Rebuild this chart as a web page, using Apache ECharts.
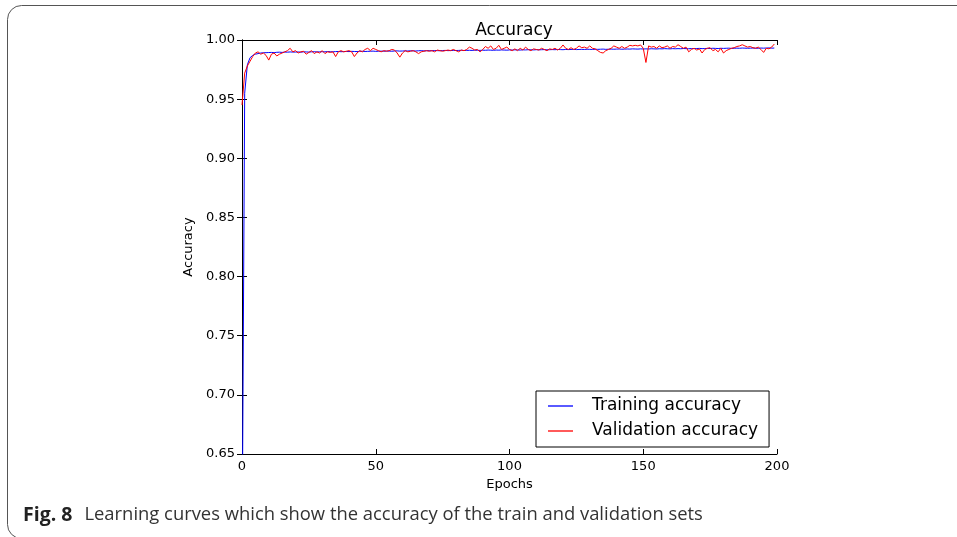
<!DOCTYPE html>
<html>
<head>
<meta charset="utf-8">
<script src="https://cdn.jsdelivr.net/npm/echarts@6/dist/echarts.min.js"></script>
<style>
html,body{margin:0;padding:0;background:#fff;}
#chart{width:957px;height:537px;}
</style>
</head>
<body>
<div id="chart"></div>
<script>
const chartTitle = 'Accuracy';
const xAxisName = 'Epochs';
const yAxisName = 'Accuracy';
const seriesNames = ['Training accuracy', 'Validation accuracy'];
const captionBold = 'Fig. 8';
const captionText = 'Learning curves which show the accuracy of the train and validation sets';
const xTicks = [0, 50, 100, 150, 200];
const yTicks = [0.65, 0.70, 0.75, 0.80, 0.85, 0.90, 0.95, 1.00];

const trainAcc = [
0.55, 0.955, 0.979, 0.985, 0.987, 0.988, 0.9885, 0.989, 0.9892, 0.9893,
0.9894, 0.9895, 0.9893, 0.9896, 0.9897, 0.9895, 0.9898, 0.9897, 0.9899, 0.9898,
0.9898, 0.9899, 0.9897, 0.99, 0.9899, 0.9898, 0.99, 0.9901, 0.9899, 0.99,
0.9901, 0.99, 0.9902, 0.9901, 0.99, 0.9902, 0.9903, 0.9901, 0.9902, 0.9903,
0.9902, 0.9904, 0.9903, 0.9902, 0.9904, 0.9905, 0.9903, 0.9904, 0.9905, 0.9906,
0.9904, 0.9905, 0.9906, 0.9905, 0.9907, 0.9906, 0.9905, 0.9907, 0.9908, 0.9906,
0.9907, 0.9908, 0.9907, 0.9909, 0.9908, 0.9907, 0.9909, 0.991, 0.9908, 0.9909,
0.991, 0.9909, 0.9911, 0.991, 0.9909, 0.9911, 0.9912, 0.991, 0.9911, 0.9912,
0.9911, 0.9912, 0.9913, 0.9911, 0.9912, 0.9913, 0.9912, 0.9914, 0.9913, 0.9912,
0.9914, 0.9913, 0.9915, 0.9914, 0.9913, 0.9915, 0.9914, 0.9916, 0.9915, 0.9914,
0.9916, 0.9915, 0.9917, 0.9916, 0.9915, 0.9917, 0.9916, 0.9918, 0.9917, 0.9916,
0.9918, 0.9917, 0.9918, 0.9919, 0.9917, 0.9918, 0.9919, 0.9918, 0.992, 0.9919,
0.9918, 0.992, 0.9919, 0.992, 0.9921, 0.9919, 0.992, 0.9921, 0.992, 0.9922,
0.9921, 0.992, 0.9922, 0.9921, 0.9922, 0.9923, 0.9921, 0.9922, 0.9923, 0.9922,
0.9923, 0.9924, 0.9922, 0.9923, 0.9924, 0.9923, 0.9925, 0.9924, 0.9923, 0.9925,
0.9924, 0.9925, 0.9924, 0.9926, 0.9925, 0.9924, 0.9926, 0.9925, 0.9927, 0.9926,
0.9925, 0.9927, 0.9926, 0.9927, 0.9926, 0.9928, 0.9927, 0.9926, 0.9928, 0.9927,
0.9928, 0.9929, 0.9927, 0.9928, 0.9929, 0.9928, 0.993, 0.9929, 0.9928, 0.993,
0.9929, 0.993, 0.9931, 0.9929, 0.993, 0.9931, 0.993, 0.9932, 0.9931, 0.993,
0.9931, 0.9932, 0.9931, 0.993, 0.9932, 0.9931, 0.9932, 0.9933, 0.9931, 0.9932
];

const valAcc = [
0.945, 0.972, 0.978, 0.982, 0.986, 0.989, 0.990, 0.988, 0.989, 0.987,
0.983, 0.988, 0.989, 0.9865, 0.988, 0.989, 0.990, 0.991, 0.993, 0.990,
0.991, 0.989, 0.990, 0.9905, 0.988, 0.9895, 0.991, 0.9885, 0.990, 0.989,
0.991, 0.9885, 0.990, 0.9895, 0.990, 0.986, 0.990, 0.991, 0.990, 0.9905,
0.991, 0.990, 0.986, 0.989, 0.991, 0.990, 0.992, 0.993, 0.991, 0.993,
0.992, 0.991, 0.990, 0.991, 0.9905, 0.991, 0.992, 0.9915, 0.989, 0.9855,
0.989, 0.991, 0.990, 0.9905, 0.991, 0.990, 0.9885, 0.990, 0.9905, 0.991,
0.9905, 0.991, 0.990, 0.9915, 0.991, 0.9905, 0.991, 0.9915, 0.991, 0.992,
0.991, 0.990, 0.9915, 0.991, 0.992, 0.994, 0.993, 0.9915, 0.992, 0.990,
0.992, 0.9945, 0.993, 0.995, 0.992, 0.993, 0.9955, 0.992, 0.993, 0.994,
0.992, 0.991, 0.9925, 0.991, 0.993, 0.9915, 0.994, 0.992, 0.991, 0.9925,
0.992, 0.9915, 0.993, 0.992, 0.991, 0.9925, 0.992, 0.993, 0.9915, 0.993,
0.9958, 0.993, 0.992, 0.9935, 0.992, 0.993, 0.995, 0.9935, 0.994, 0.993,
0.995, 0.993, 0.9925, 0.991, 0.9895, 0.989, 0.991, 0.992, 0.993, 0.995,
0.994, 0.993, 0.9945, 0.993, 0.994, 0.9955, 0.995, 0.9955, 0.995, 0.9958,
0.993, 0.981, 0.995, 0.994, 0.9945, 0.993, 0.995, 0.9935, 0.994, 0.995,
0.993, 0.9945, 0.994, 0.996, 0.9945, 0.993, 0.994, 0.990, 0.992, 0.993,
0.9915, 0.9925, 0.989, 0.992, 0.993, 0.9935, 0.991, 0.992, 0.990, 0.993,
0.989, 0.991, 0.992, 0.993, 0.9935, 0.9945, 0.995, 0.996, 0.995, 0.994,
0.9945, 0.9935, 0.993, 0.994, 0.992, 0.9895, 0.993, 0.9925, 0.994, 0.9966
];

const chart = echarts.init(document.getElementById('chart'), null, {renderer: 'canvas'});
const FONT = 'DejaVu Sans';
const xMin = xTicks[0], xMax = xTicks[xTicks.length - 1];
const xInt = xTicks[1] - xTicks[0];
const yMin = yTicks[0], yMax = yTicks[yTicks.length - 1];
const yInt = 0.05;

const trainData = trainAcc.map((v, i) => [i, v]);
const valData = valAcc.map((v, i) => [i, v]);

const axisCommon = {
  axisLine: {show: true, lineStyle: {color: '#000', width: 1}},
  axisTick: {show: true, inside: true, length: 5, lineStyle: {color: '#000', width: 1}},
  splitLine: {show: false}
};

chart.setOption({
  animation: false,
  backgroundColor: '#fff',
  title: {
    text: chartTitle,
    left: 509, top: 17, textAlign: 'center',
    textStyle: {fontFamily: FONT, fontSize: 17, fontWeight: 'normal', color: '#000'}
  },
  grid: {left: 242, top: 40, width: 535, height: 414, containLabel: false},
  legend: {
    left: 536, top: 391,
    orient: 'vertical',
    icon: 'rect',
    itemWidth: 25, itemHeight: 1.3,
    itemGap: 5,
    padding: [5, 11, 6, 12],
    borderColor: '#000', borderWidth: 1, borderRadius: 0,
    backgroundColor: '#fff',
    textStyle: {fontFamily: FONT, fontSize: 17, color: '#000', lineHeight: 20, padding: [0, 0, 0, 14]},
    data: seriesNames
  },
  xAxis: [
    Object.assign({
      type: 'value', position: 'bottom', min: xMin, max: xMax, interval: xInt,
      name: xAxisName, nameLocation: 'middle', nameGap: 24,
      nameTextStyle: {fontFamily: FONT, fontSize: 13, color: '#000'},
      axisLabel: {fontFamily: FONT, fontSize: 13, color: '#000', margin: 6, showMinLabel: true, showMaxLabel: true}
    }, axisCommon),
    Object.assign({
      type: 'value', position: 'top', min: xMin, max: xMax, interval: xInt,
      axisLabel: {show: false}
    }, axisCommon)
  ],
  yAxis: [
    Object.assign({
      type: 'value', position: 'left', min: yMin, max: yMax, interval: yInt,
      name: yAxisName, nameLocation: 'middle', nameGap: 43,
      nameTextStyle: {fontFamily: FONT, fontSize: 13, color: '#000'},
      axisLabel: {fontFamily: FONT, fontSize: 13, color: '#000', margin: 7,
        formatter: v => v.toFixed(2), showMinLabel: true, showMaxLabel: true}
    }, axisCommon),
    Object.assign({
      type: 'value', position: 'right', min: yMin, max: yMax, interval: yInt,
      axisLabel: {show: false}
    }, axisCommon)
  ],
  series: [
    {
      name: seriesNames[0], type: 'line', xAxisIndex: 0, yAxisIndex: 0,
      data: trainData, showSymbol: false, symbol: 'none', clip: true,
      color: '#0000ff', lineStyle: {color: '#0000ff', width: 1}
    },
    {
      name: seriesNames[1], type: 'line', xAxisIndex: 0, yAxisIndex: 0,
      data: valData, showSymbol: false, symbol: 'none', clip: true,
      color: '#ff0000', lineStyle: {color: '#ff0000', width: 1}
    }
  ],
  graphic: [
    {
      type: 'rect', silent: true, z: -1,
      shape: {x: 7.5, y: 5.5, width: 1000, height: 533, r: 14},
      style: {fill: 'none', stroke: '#555', lineWidth: 1}
    },
    {
      type: 'text', left: 23, top: 505,
      style: {
        text: '{b|' + captionBold + '}{n|' + captionText + '}',
        rich: {
          b: {fontFamily: 'Open Sans', fontWeight: 'bold', fontSize: 19.5, fill: '#222'},
          n: {fontFamily: 'Open Sans', fontWeight: 'normal', fontSize: 18.4, fill: '#333', padding: [0, 0, 0, 12]}
        }
      }
    }
  ]
});
</script>
</body>
</html>
